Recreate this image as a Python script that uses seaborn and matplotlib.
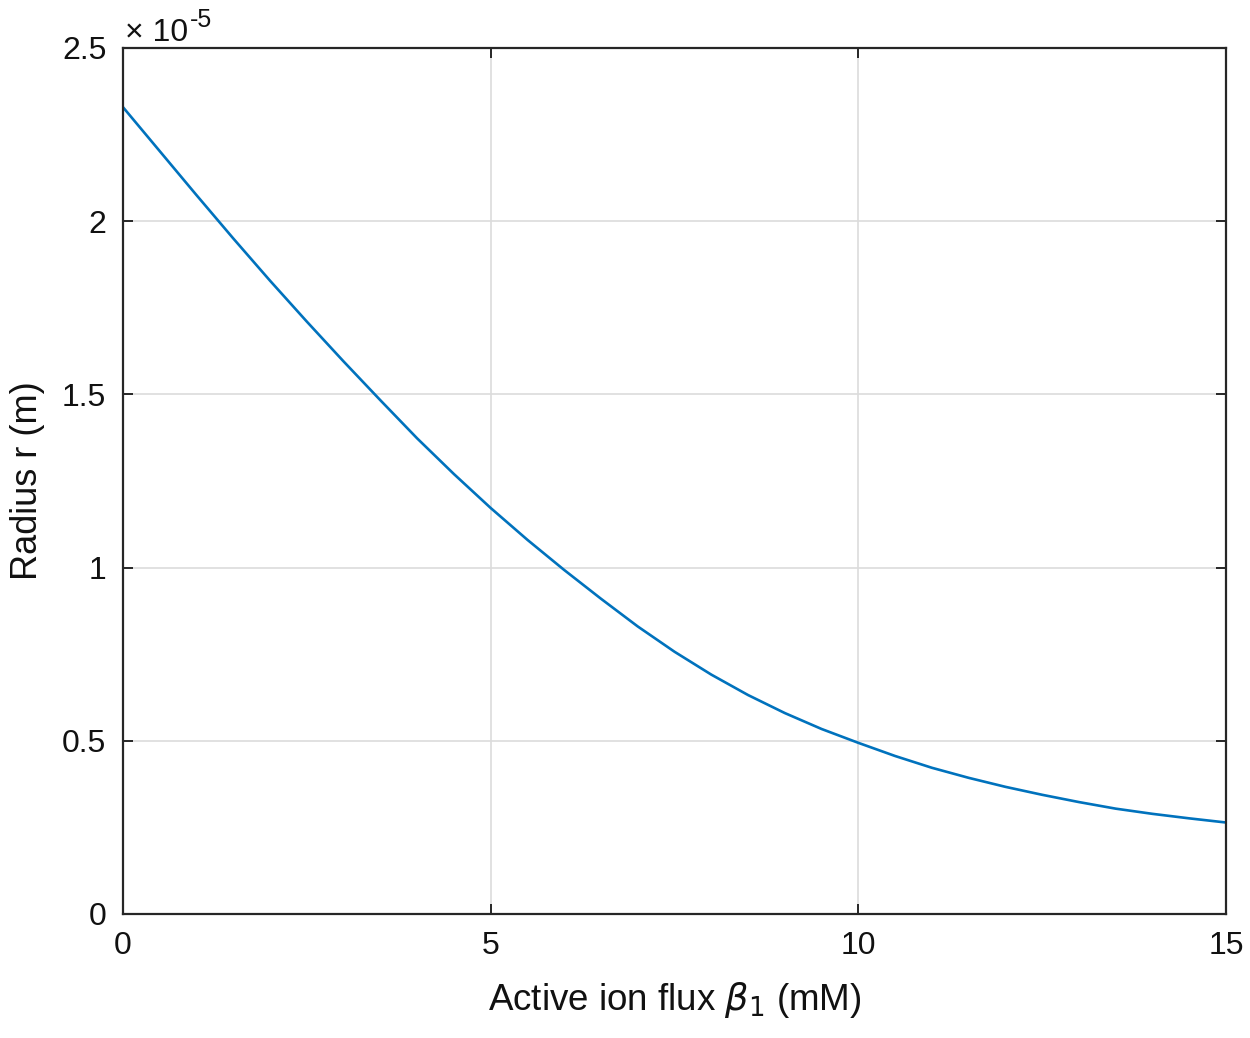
import matplotlib
matplotlib.use("Agg")
import matplotlib.pyplot as plt
import seaborn as sns
import pandas as pd

# values (radius in units of 1e-5 m)
flux = [0, 0.5, 1, 1.5, 2, 2.5, 3, 3.5, 4, 4.5, 5, 5.5, 6, 6.5, 7, 7.5,
        8, 8.5, 9, 9.5, 10, 10.5, 11, 11.5, 12, 12.5, 13, 13.5, 14, 14.5, 15]
radius = [2.329, 2.202, 2.075, 1.950, 1.828, 1.710, 1.595, 1.483, 1.373,
          1.270, 1.172, 1.080, 0.993, 0.910, 0.830, 0.757, 0.691, 0.632,
          0.580, 0.534, 0.494, 0.456, 0.422, 0.393, 0.367, 0.344, 0.323,
          0.304, 0.289, 0.276, 0.264]
xticks = [0, 5, 10, 15]
yticks = [0, 0.5, 1, 1.5, 2, 2.5]
ytick_labels = ["0", "0.5", "1", "1.5", "2", "2.5"]

df = pd.DataFrame({"flux": flux, "radius": radius})

sns.set_theme(style="white")
plt.rcParams["font.family"] = ["Liberation Sans", "DejaVu Sans"]

fig = plt.figure(figsize=(12.5, 10.38), dpi=100)
ax = fig.add_axes([0.0984, 0.1195, 0.8824, 0.8343])

sns.lineplot(data=df, x="flux", y="radius", ax=ax, color="#0072BD", linewidth=1.9)

ax.set_xlim(0, 15)
ax.set_ylim(0, 2.5)
ax.set_xticks(xticks)
ax.set_yticks(yticks)
ax.set_yticklabels(ytick_labels)
ax.grid(True, color="#dcdcdc", linewidth=1.2)
ax.set_axisbelow(True)
for s in ax.spines.values():
    s.set_color("#262626")
    s.set_linewidth(1.6)
ax.tick_params(direction="in", length=7, width=1.4, colors="#262626",
               labelsize=23, top=True, right=True, bottom=True, left=True,
               pad=12)
for lab in ax.get_xticklabels() + ax.get_yticklabels():
    lab.set_color("#111111")

ax.set_xlabel(r"Active ion flux $\beta_1$ (mM)", fontsize=26.5, color="#111111", labelpad=14)
ax.set_ylabel("Radius r (m)", fontsize=26, color="#111111", labelpad=12)

# exponent label in the MATLAB style
ax.text(0.002, 1.008, "\u00d7 10", transform=ax.transAxes, fontsize=23,
        color="#111111", ha="left", va="baseline")
ax.text(0.0605, 1.024, "-5", transform=ax.transAxes, fontsize=18,
        color="#111111", ha="left", va="baseline")

fig.savefig("out.png", dpi=100)
